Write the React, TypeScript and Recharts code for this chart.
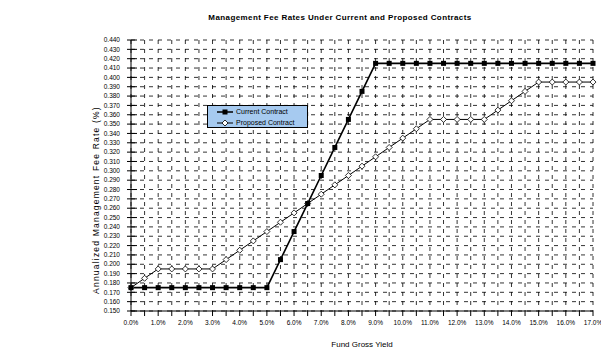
import { LineChart, Line, XAxis, YAxis, CartesianGrid, Legend } from "recharts"

// fund gross yield (%)
const yields = [0, 0.5, 1, 1.5, 2, 2.5, 3, 3.5, 4, 4.5, 5, 5.5, 6, 6.5, 7, 7.5, 8, 8.5, 9, 9.5, 10, 10.5, 11, 11.5, 12, 12.5, 13, 13.5, 14, 14.5, 15, 15.5, 16, 16.5, 17]

const currentContract = [
  0.175, 0.175, 0.175, 0.175, 0.175, 0.175, 0.175, 0.175, 0.175, 0.175, 0.175,
  0.205, 0.235, 0.265, 0.295, 0.325, 0.355, 0.385, 0.415,
  0.415, 0.415, 0.415, 0.415, 0.415, 0.415, 0.415, 0.415, 0.415, 0.415, 0.415, 0.415, 0.415, 0.415, 0.415, 0.415,
]

const proposedContract = [
  0.175, 0.185, 0.195, 0.195, 0.195, 0.195, 0.195, 0.205, 0.215, 0.225, 0.235,
  0.245, 0.255, 0.265, 0.275, 0.285, 0.295, 0.305, 0.315, 0.325, 0.335, 0.345, 0.355,
  0.355, 0.355, 0.355, 0.355, 0.365, 0.375, 0.385, 0.395, 0.395, 0.395, 0.395, 0.395,
]

const rateTicks = [0.15, 0.16, 0.17, 0.18, 0.19, 0.2, 0.21, 0.22, 0.23, 0.24, 0.25, 0.26, 0.27, 0.28, 0.29, 0.3, 0.31, 0.32, 0.33, 0.34, 0.35, 0.36, 0.37, 0.38, 0.39, 0.4, 0.41, 0.42, 0.43, 0.44]
// ticks every 0.5%, labelled on whole percents
const yieldTicks = yields

const data = yields.map((x, i) => ({ x, current: currentContract[i], proposed: proposedContract[i] }))

const FONT = '"Liberation Sans", Arial, sans-serif'
const DASH = "4 5"

function SquareDot({ cx, cy }: any) {
  return <rect x={cx - 2.5} y={cy - 2.5} width={5} height={5} fill="#000" />
}

function DiamondDot({ cx, cy }: any) {
  return (
    <polygon
      points={`${cx},${cy - 3} ${cx + 3},${cy} ${cx},${cy + 3} ${cx - 3},${cy}`}
      fill="#fff"
      stroke="#000"
      strokeWidth={0.8}
    />
  )
}

function RateTick({ x, y, payload }: any) {
  return (
    <g>
      <line x1={x - 4} x2={x + 6} y1={y} y2={y} stroke="#000" />
      <text x={x - 11} y={y} dy={2.2} textAnchor="end" fontSize={6.5} fontFamily={FONT} fill="#000">
        {Number(payload.value).toFixed(3)}
      </text>
    </g>
  )
}

function LegendBox() {
  const row = (label: string, marker: "square" | "diamond") => (
    <div style={{ display: "flex", alignItems: "center", height: 11 }}>
      <svg width={16} height={8} style={{ marginRight: 3 }}>
        <line x1={0} x2={16} y1={4} y2={4} stroke="#000" strokeWidth={marker === "square" ? 1.5 : 1} />
        {marker === "square" ? (
          <rect x={5.5} y={1.5} width={5} height={5} fill="#000" />
        ) : (
          <polygon points="8,1 11,4 8,7 5,4" fill="#fff" stroke="#000" strokeWidth={0.8} />
        )}
      </svg>
      <span>{label}</span>
    </div>
  )
  return (
    <div
      style={{
        background: "#a6caf0",
        border: "1px solid #000",
        fontFamily: FONT,
        fontSize: 7,
        color: "#000",
        padding: "0 0 0 9px",
        boxSizing: "border-box",
        width: 101,
        height: 23,
      }}
    >
      {row("Current Contract", "square")}
      {row("Proposed Contract", "diamond")}
    </div>
  )
}

export default function App() {
  return (
    <div style={{ position: "absolute", left: 0, top: 0, width: 601, height: 351, background: "#fff" }}>
      <div
        style={{
          position: "absolute",
          left: 140,
          width: 400,
          top: 14,
          textAlign: "center",
          fontFamily: FONT,
          fontWeight: "bold",
          fontSize: 8,
          letterSpacing: 0.4,
          lineHeight: "8px",
          color: "#000",
        }}
      >
        Management Fee Rates Under Current and Proposed Contracts
      </div>
      <div
        style={{
          position: "absolute",
          left: 96,
          top: 200,
          transform: "translate(-50%, -50%) rotate(-90deg)",
          whiteSpace: "nowrap",
          fontFamily: FONT,
          fontSize: 8.5,
          letterSpacing: 1.2,
          lineHeight: "10px",
          color: "#000",
          zIndex: 1,
        }}
      >
        Annualized Management Fee Rate (%)
      </div>
      <LineChart width={601} height={351} data={data} margin={{ top: 40, right: 8, bottom: 2, left: 91 }}>
        <CartesianGrid stroke="#000" strokeDasharray={DASH} strokeWidth={0.8} />
        <XAxis
          dataKey="x"
          type="number"
          domain={[0, 17]}
          ticks={yieldTicks}
          interval={0}
          height={38}
          stroke="#000"
          tickSize={5}
          tickMargin={4}
          tick={{ fontSize: 6.5, fontFamily: FONT, fill: "#000" }}
          tickFormatter={(v: number) => (Number.isInteger(v) ? `${v.toFixed(1)}%` : "")}
          label={{ value: "Fund Gross Yield", position: "insideBottom", offset: 2, fontSize: 8, fontFamily: FONT, fill: "#000" }}
        />
        <YAxis
          type="number"
          domain={[0.15, 0.44]}
          ticks={rateTicks}
          interval={0}
          width={40}
          stroke="#000"
          tickLine={false}
          tickSize={0}
          tickMargin={0}
          tick={<RateTick />}
        />
        <Legend
          layout="vertical"
          align="center"
          verticalAlign="middle"
          content={<LegendBox />}
          wrapperStyle={{ left: 207, top: 105, width: 101, height: 23 }}
        />
        <Line
          dataKey="proposed"
          name="Proposed Contract"
          stroke="#000"
          strokeWidth={1}
          dot={<DiamondDot />}
          isAnimationActive={false}
        />
        <Line
          dataKey="current"
          name="Current Contract"
          stroke="#000"
          strokeWidth={1.6}
          dot={<SquareDot />}
          isAnimationActive={false}
        />
      </LineChart>
    </div>
  )
}
